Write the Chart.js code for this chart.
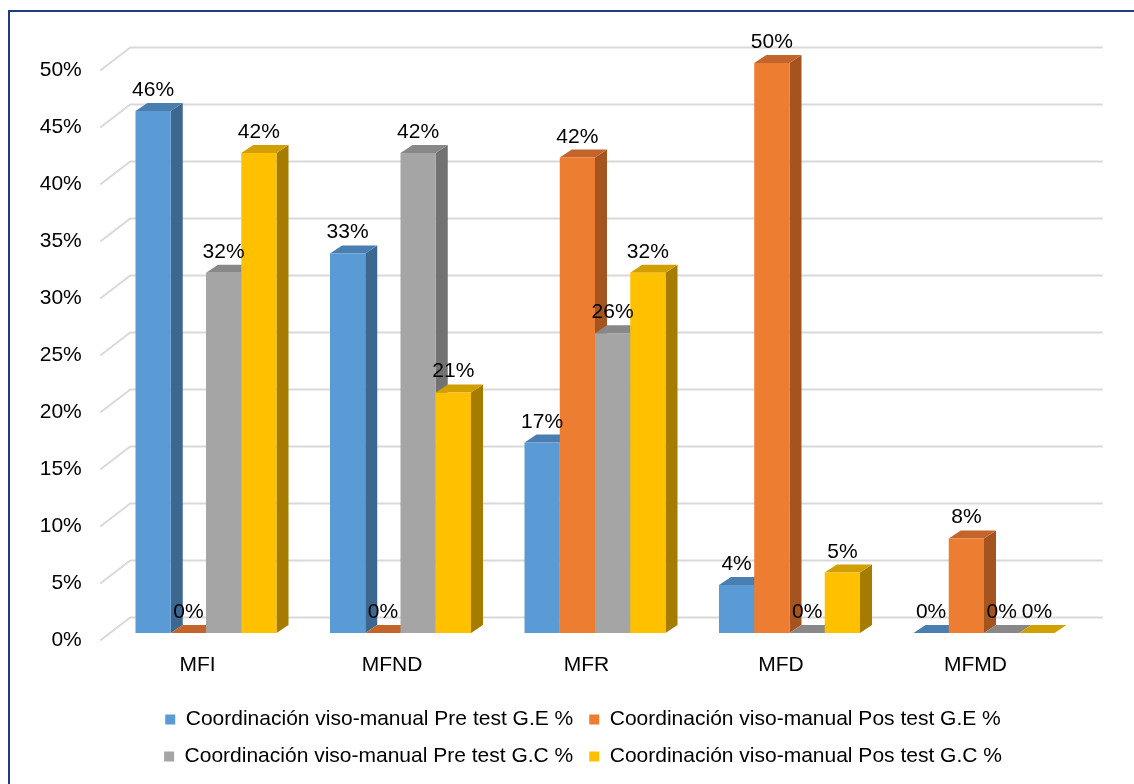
<!DOCTYPE html>
<html>
<head>
<meta charset="utf-8">
<script src="https://cdn.jsdelivr.net/npm/chart.js@4.4.1/dist/chart.umd.min.js"></script>
<style>
  html, body { margin: 0; padding: 0; background: #fff; overflow: hidden; }
  #frame {
    position: absolute; left: 8px; top: 10px;
    width: 1300px; height: 900px;
    border: 2px solid #203c86;
  }
  #chart { position: absolute; left: 0; top: 0; }
</style>
</head>
<body>
<div id="frame"></div>
<canvas id="chart" width="1134" height="784"></canvas>
<script>
const categories = ['MFI', 'MFND', 'MFR', 'MFD', 'MFMD'];
const seriesNames = [
  'Coordinación viso-manual Pre test G.E %',
  'Coordinación viso-manual Pos test G.E %',
  'Coordinación viso-manual Pre test G.C %',
  'Coordinación viso-manual Pos test G.C %'
];
const preTestGE = [45.8, 33.3, 16.7, 4.2, 0];
const posTestGE = [0, 0, 41.7, 50, 8.3];
const preTestGC = [31.6, 42.1, 26.3, 0, 0];
const posTestGC = [42.1, 21.1, 31.6, 5.3, 0];

// front / top / side colours of the 3D bars
const frontColors = ['#5b9bd5', '#ed7d31', '#a5a5a5', '#ffc000'];
const topColors = ['#4a7eb0', '#c3652a', '#888888', '#d1a000'];
const sideColors = ['#3c6890', '#a5541f', '#727272', '#a67c00'];

const DX = 12, DY = 8;   // depth of a bar

Chart.defaults.font.family = "'Liberation Sans', Arial, sans-serif";
Chart.defaults.font.size = 21;
Chart.defaults.color = '#000';

const bars3d = {
  id: 'bars3d',
  afterLayout(chart) {
    // centre the legend under the frame rather than the canvas
    const lg = chart.legend;
    const shift = 583 - (lg.left + lg.right) / 2;
    lg.left += shift;
    lg.right += shift;
  },
  beforeDatasetsDraw(chart) {
    const { ctx, chartArea: { left, right }, scales: { y } } = chart;
    ctx.save();

    // gridlines on the back wall, with the short diagonal on the left side
    ctx.strokeStyle = '#d9d9d9';
    ctx.lineWidth = 2;
    y.ticks.forEach(t => {
      const py = y.getPixelForValue(t.value);
      ctx.beginPath();
      ctx.moveTo(left - 8.5, py + 7.5);
      ctx.lineTo(left + 21.5, py - 15.5);
      ctx.lineTo(right + 21.5, py - 15.5);
      ctx.stroke();
    });

    const metas = chart.data.datasets.map((d, i) => chart.getDatasetMeta(i));

    // draw left to right so each bar hides the side of the one before
    categories.forEach((c, j) => {
      metas.forEach((meta, i) => {
        const bar = meta.data[j];
        const { x, y: top, base, width } = bar.getProps(['x', 'y', 'base', 'width'], true);
        const x0 = x - width / 2, x1 = x + width / 2;

        ctx.fillStyle = sideColors[i];
        ctx.beginPath();
        ctx.moveTo(x1, top);
        ctx.lineTo(x1 + DX, top - DY);
        ctx.lineTo(x1 + DX, base - DY);
        ctx.lineTo(x1, base);
        ctx.closePath();
        ctx.fill();

        ctx.fillStyle = topColors[i];
        ctx.beginPath();
        ctx.moveTo(x0, top);
        ctx.lineTo(x1, top);
        ctx.lineTo(x1 + DX, top - DY);
        ctx.lineTo(x0 + DX, top - DY);
        ctx.closePath();
        ctx.fill();

        bar.draw(ctx);
      });
    });

    // value labels
    ctx.fillStyle = '#000';
    ctx.font = "21px 'Liberation Sans', Arial, sans-serif";
    ctx.textAlign = 'center';
    ctx.textBaseline = 'alphabetic';
    metas.forEach((meta, i) => {
      const values = chart.data.datasets[i].data;
      meta.data.forEach((bar, j) => {
        const { x, y: top } = bar.getProps(['x', 'y'], true);
        ctx.fillText(Math.round(values[j]) + '%', x, top - DY - 7);
      });
    });

    ctx.restore();
    return false;
  }
};

const seriesValues = [preTestGE, posTestGE, preTestGC, posTestGC];

new Chart(document.getElementById('chart'), {
  type: 'bar',
  data: {
    labels: categories,
    datasets: seriesValues.map((vals, i) => ({
      label: seriesNames[i],
      data: vals,
      backgroundColor: frontColors[i],
      borderWidth: 0,
      categoryPercentage: 0.725,
      barPercentage: 1.0
    }))
  },
  options: {
    responsive: false,
    animation: false,
    layout: { padding: { left: 0, right: 52.75, top: 63, bottom: 7 } },
    plugins: {
      legend: {
        position: 'bottom',
        labels: {
          boxWidth: 10,
          boxHeight: 10,
          padding: 16,
          color: '#000',
          font: { size: 21 }
        }
      },
      tooltip: { enabled: false }
    },
    scales: {
      x: {
        grid: { display: false, drawTicks: false },
        border: { display: false },
        ticks: { padding: 20, labelOffset: -8.5, color: '#000' },
        afterFit(scale) { scale.height = 60; }
      },
      y: {
        min: 0,
        max: 50,
        grid: { display: false, drawTicks: false },
        border: { display: false },
        ticks: {
          stepSize: 5,
          padding: 27,
          labelOffset: 7.5,
          color: '#000',
          callback: v => v + '%'
        },
        afterFit(scale) { scale.width = 108.75; }
      }
    }
  },
  plugins: [bars3d]
});
</script>
</body>
</html>
